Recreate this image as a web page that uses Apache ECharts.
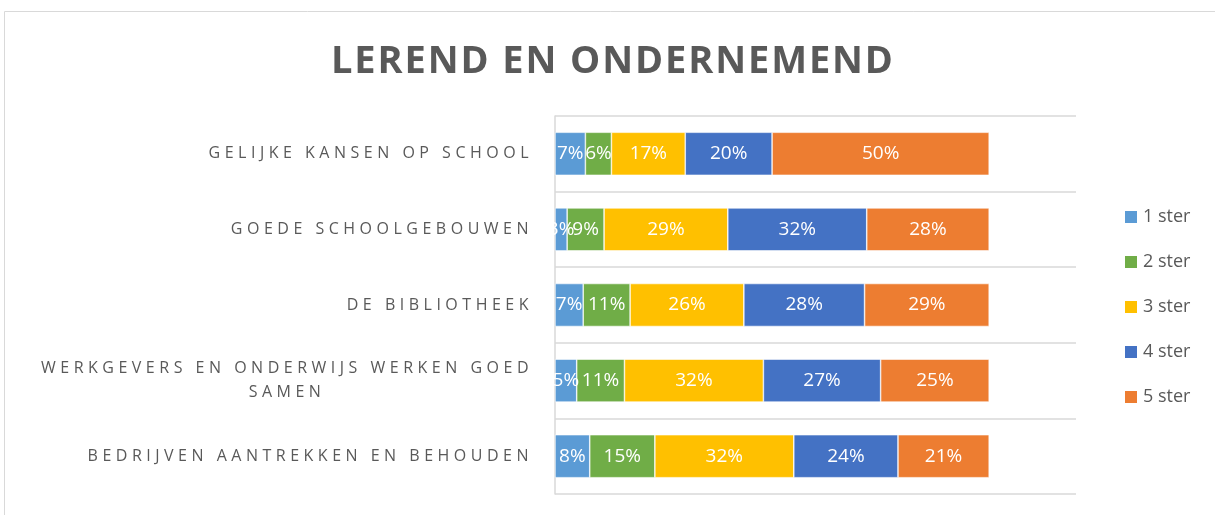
<!DOCTYPE html>
<html lang="nl">
<head>
	<meta charset="UTF-8">
	<title>Lerend en ondernemend</title>
	<style>
		html, body { margin: 0; padding: 0; background: #fff; }
	</style>
</head>
<body>
	<div id="container" style="width: 1215px;height:515px;"></div>

	<script src="https://cdn.jsdelivr.net/npm/echarts@6/dist/echarts.min.js"></script>
	<script>
        var categories = [
            'GELIJKE KANSEN OP SCHOOL',
            'GOEDE SCHOOLGEBOUWEN',
            'DE BIBLIOTHEEK',
            'WERKGEVERS EN ONDERWIJS WERKEN GOED SAMEN',
            'BEDRIJVEN AANTREKKEN EN BEHOUDEN'
        ];
        var seriesNames = ['1 ster', '2 ster', '3 ster', '4 ster', '5 ster'];
        // percentages per category (top to bottom)
        var ster1 = [7, 2.8, 6.5, 5, 8];
        var ster2 = [6, 8.5, 10.8, 11, 15];
        var ster3 = [17, 28.5, 26.2, 32, 32];
        var ster4 = [20, 32, 27.8, 27, 24];
        var ster5 = [50, 28.2, 28.7, 25, 21];
        var colors = ['#5B9BD5', '#70AD47', '#FFC000', '#4472C4', '#ED7D31'];

        // the Excel chart spaces out the letters of the title and axis labels;
        // canvas can do that, so switch it on for those two font sizes
        var proto = CanvasRenderingContext2D.prototype;
        var origFill = proto.fillText;
        var origMeasure = proto.measureText;
        function spacingFor(font) {
            if (/(^|\s)16px/.test(font)) return '4.5px';
            if (/(^|\s)38px/.test(font)) return '1.9px';
            return '0px';
        }
        proto.fillText = function () {
            this.letterSpacing = spacingFor(this.font);
            return origFill.apply(this, arguments);
        };
        proto.measureText = function () {
            this.letterSpacing = spacingFor(this.font);
            return origMeasure.apply(this, arguments);
        };

        var values = [ster1, ster2, ster3, ster4, ster5];
        var series = [];
        for (var i = 0; i < seriesNames.length; i++) {
            series.push({
                name: seriesNames[i],
                type: 'bar',
                stack: 'total',
                barWidth: 43,
                data: values[i],
                itemStyle: { color: colors[i], borderColor: '#fff', borderWidth: 0.6 },
                label: {
                    show: true,
                    position: 'inside',
                    color: '#fff',
                    fontFamily: 'Open Sans',
                    fontSize: 19,
                    formatter: function (p) { return Math.round(p.value) + '%'; }
                }
            });
        }

        var option = {
            animation: false,
            textStyle: { fontFamily: 'Open Sans' },
            title: {
                text: 'LEREND EN ONDERNEMEND',
                left: 326,
                top: 37,
                textStyle: {
                    fontFamily: 'Open Sans',
                    fontSize: 38,
                    fontWeight: 'bold',
                    color: '#595959'
                }
            },
            legend: {
                orient: 'vertical',
                left: 1118,
                top: 203,
                itemWidth: 14,
                itemHeight: 14,
                itemGap: 27,
                icon: 'rect',
                textStyle: { fontSize: 18, color: '#595959', lineHeight: 18 },
                data: seriesNames
            },
            grid: { left: 555, right: 139, top: 116, bottom: 21, containLabel: false },
            xAxis: {
                type: 'value',
                min: 0,
                max: 120,
                show: false
            },
            yAxis: {
                type: 'category',
                inverse: true,
                data: categories,
                axisLine: { show: true, lineStyle: { color: '#d9d9d9', width: 1.5 } },
                axisTick: { show: false },
                splitLine: { show: true, lineStyle: { color: '#d9d9d9', width: 1.5 } },
                axisLabel: {
                    margin: 22,
                    color: '#595959',
                    fontSize: 16,
                    formatter: function (v) {
                        if (v.indexOf('SAMEN') > -1) {
                            return '{c|WERKGEVERS EN ONDERWIJS WERKEN GOED}\n{c|SAMEN}';
                        }
                        return '{c|' + v + '}';
                    },
                    rich: {
                        c: { align: 'center', color: '#595959', fontSize: 16, lineHeight: 24 }
                    }
                }
            },
            graphic: [{
                type: 'rect',
                shape: { x: 4.5, y: 11.5, width: 1230, height: 520 },
                style: { fill: 'none', stroke: '#d9d9d9', lineWidth: 1 },
                silent: true,
                z: -10
            }],
            series: series
        };
        var myChart = echarts.init(document.getElementById('container'));
        myChart.setOption(option);
    </script>
</body>
</html>
